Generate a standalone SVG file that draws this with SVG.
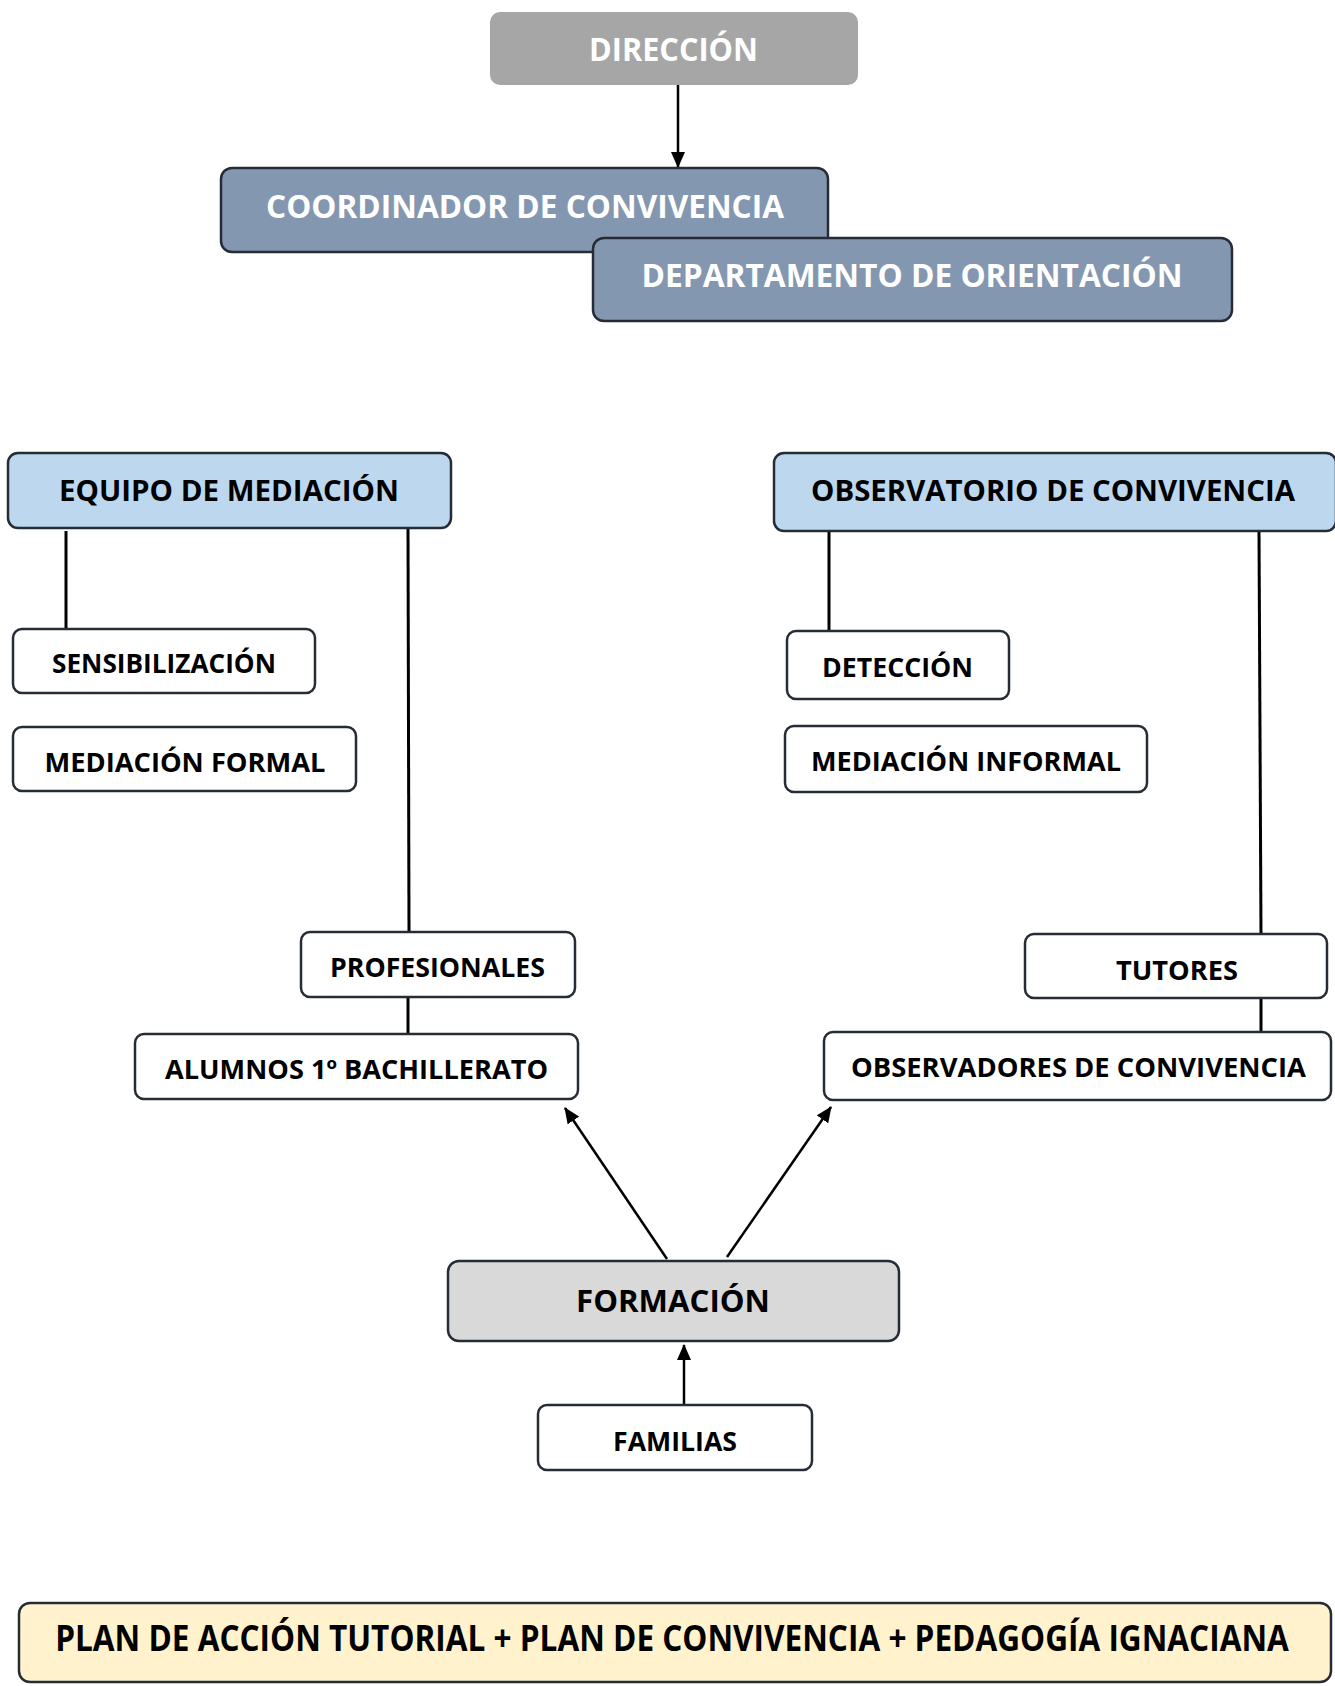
<svg xmlns="http://www.w3.org/2000/svg" width="1335" height="1686" viewBox="0 0 1335 1686">
<style>
.t{font-family:"Open Sans","Noto Sans","Liberation Sans",sans-serif;font-weight:bold;text-anchor:middle}
.w{fill:#ffffff}
.k{fill:#000000}
.box{stroke:#262c36;stroke-width:2.5}
.ln{stroke:#000;stroke-width:3;fill:none}
.ar{stroke:#000;stroke-width:2.5;fill:none;marker-end:url(#ah)}
</style>
<defs>
<marker id="ah" markerUnits="userSpaceOnUse" markerWidth="16" markerHeight="14" refX="15" refY="7" orient="auto">
<path d="M0,0 L16,7 L0,14 Z" fill="#000"/>
</marker>
</defs>
<g id="connectors">
<line class="ar" x1="678" y1="85" x2="678" y2="167"/>
<line class="ln" x1="66" y1="531" x2="66" y2="630"/>
<line class="ln" x1="408" y1="528" x2="409" y2="932"/>
<line class="ln" x1="408" y1="997" x2="408" y2="1034"/>
<line class="ln" x1="829" y1="532" x2="829" y2="631"/>
<line class="ln" x1="1259" y1="531" x2="1261" y2="934"/>
<line class="ln" x1="1261" y1="998" x2="1261" y2="1032"/>
<line class="ar" x1="667" y1="1259" x2="565" y2="1108"/>
<line class="ar" x1="727" y1="1257" x2="831" y2="1107"/>
<line class="ar" x1="684" y1="1404" x2="684" y2="1345"/>
</g>
<g id="direccion">
<rect x="490" y="12" width="368" height="73" rx="10" fill="#a6a6a6"/>
<text class="t w" x="673.5" y="61" font-size="32" textLength="169" lengthAdjust="spacingAndGlyphs">DIRECCIÓN</text>
</g>
<g id="coordinador">
<rect class="box" x="221" y="168" width="607" height="84" rx="11" fill="#8497b0"/>
<text class="t w" x="525" y="218" font-size="32" textLength="518" lengthAdjust="spacingAndGlyphs">COORDINADOR DE CONVIVENCIA</text>
</g>
<g id="departamento">
<rect class="box" x="593" y="238" width="639" height="83" rx="11" fill="#8497b0"/>
<text class="t w" x="912" y="287" font-size="32" textLength="541" lengthAdjust="spacingAndGlyphs">DEPARTAMENTO DE ORIENTACIÓN</text>
</g>
<g id="equipo">
<rect class="box" x="8" y="453" width="443" height="75" rx="10" fill="#bdd7ee"/>
<text class="t k" x="229" y="501" font-size="29" textLength="340" lengthAdjust="spacingAndGlyphs">EQUIPO DE MEDIACIÓN</text>
</g>
<g id="observatorio">
<rect class="box" x="774" y="453" width="562" height="78" rx="10" fill="#bdd7ee"/>
<text class="t k" x="1053" y="501" font-size="29" textLength="484" lengthAdjust="spacingAndGlyphs">OBSERVATORIO DE CONVIVENCIA</text>
</g>
<g id="sensibilizacion">
<rect class="box" x="13" y="629" width="302" height="64" rx="9" fill="#fff"/>
<text class="t k" x="164" y="673" font-size="26.5" textLength="224" lengthAdjust="spacingAndGlyphs">SENSIBILIZACIÓN</text>
</g>
<g id="mediacion-formal">
<rect class="box" x="13" y="727" width="343" height="64" rx="9" fill="#fff"/>
<text class="t k" x="185" y="772" font-size="26.5" textLength="281" lengthAdjust="spacingAndGlyphs">MEDIACIÓN FORMAL</text>
</g>
<g id="deteccion">
<rect class="box" x="787" y="631" width="222" height="68" rx="9" fill="#fff"/>
<text class="t k" x="897.5" y="677" font-size="26.5" textLength="151" lengthAdjust="spacingAndGlyphs">DETECCIÓN</text>
</g>
<g id="mediacion-informal">
<rect class="box" x="785" y="726" width="362" height="66" rx="9" fill="#fff"/>
<text class="t k" x="966" y="771" font-size="26.5" textLength="310" lengthAdjust="spacingAndGlyphs">MEDIACIÓN INFORMAL</text>
</g>
<g id="profesionales">
<rect class="box" x="301" y="932" width="274" height="65" rx="9" fill="#fff"/>
<text class="t k" x="437.5" y="977" font-size="26.5" textLength="215" lengthAdjust="spacingAndGlyphs">PROFESIONALES</text>
</g>
<g id="alumnos">
<rect class="box" x="135" y="1034" width="443" height="65" rx="9" fill="#fff"/>
<text class="t k" x="356.5" y="1079" font-size="26.5" textLength="383" lengthAdjust="spacingAndGlyphs">ALUMNOS 1º BACHILLERATO</text>
</g>
<g id="tutores">
<rect class="box" x="1025" y="934" width="302" height="64" rx="9" fill="#fff"/>
<text class="t k" x="1177" y="980" font-size="26.5" textLength="122" lengthAdjust="spacingAndGlyphs">TUTORES</text>
</g>
<g id="observadores">
<rect class="box" x="824" y="1032" width="507" height="68" rx="9" fill="#fff"/>
<text class="t k" x="1078.5" y="1077" font-size="26.5" textLength="455" lengthAdjust="spacingAndGlyphs">OBSERVADORES DE CONVIVENCIA</text>
</g>
<g id="formacion">
<rect class="box" x="448" y="1261" width="451" height="80" rx="11" fill="#d9d9d9"/>
<text class="t k" x="673" y="1312" font-size="30" textLength="194" lengthAdjust="spacingAndGlyphs">FORMACIÓN</text>
</g>
<g id="familias">
<rect class="box" x="538" y="1405" width="274" height="65" rx="9" fill="#fff"/>
<text class="t k" x="675" y="1451" font-size="26.5" textLength="124" lengthAdjust="spacingAndGlyphs">FAMILIAS</text>
</g>
<g id="plan">
<rect class="box" x="19" y="1603" width="1312" height="79" rx="11" fill="#fff2cc"/>
<text class="t k" transform="translate(672,1651) scale(0.87,1)" x="0" y="0" font-size="35" textLength="1418" lengthAdjust="spacingAndGlyphs">PLAN DE ACCIÓN TUTORIAL + PLAN DE CONVIVENCIA + PEDAGOGÍA IGNACIANA</text>
</g>
</svg>
